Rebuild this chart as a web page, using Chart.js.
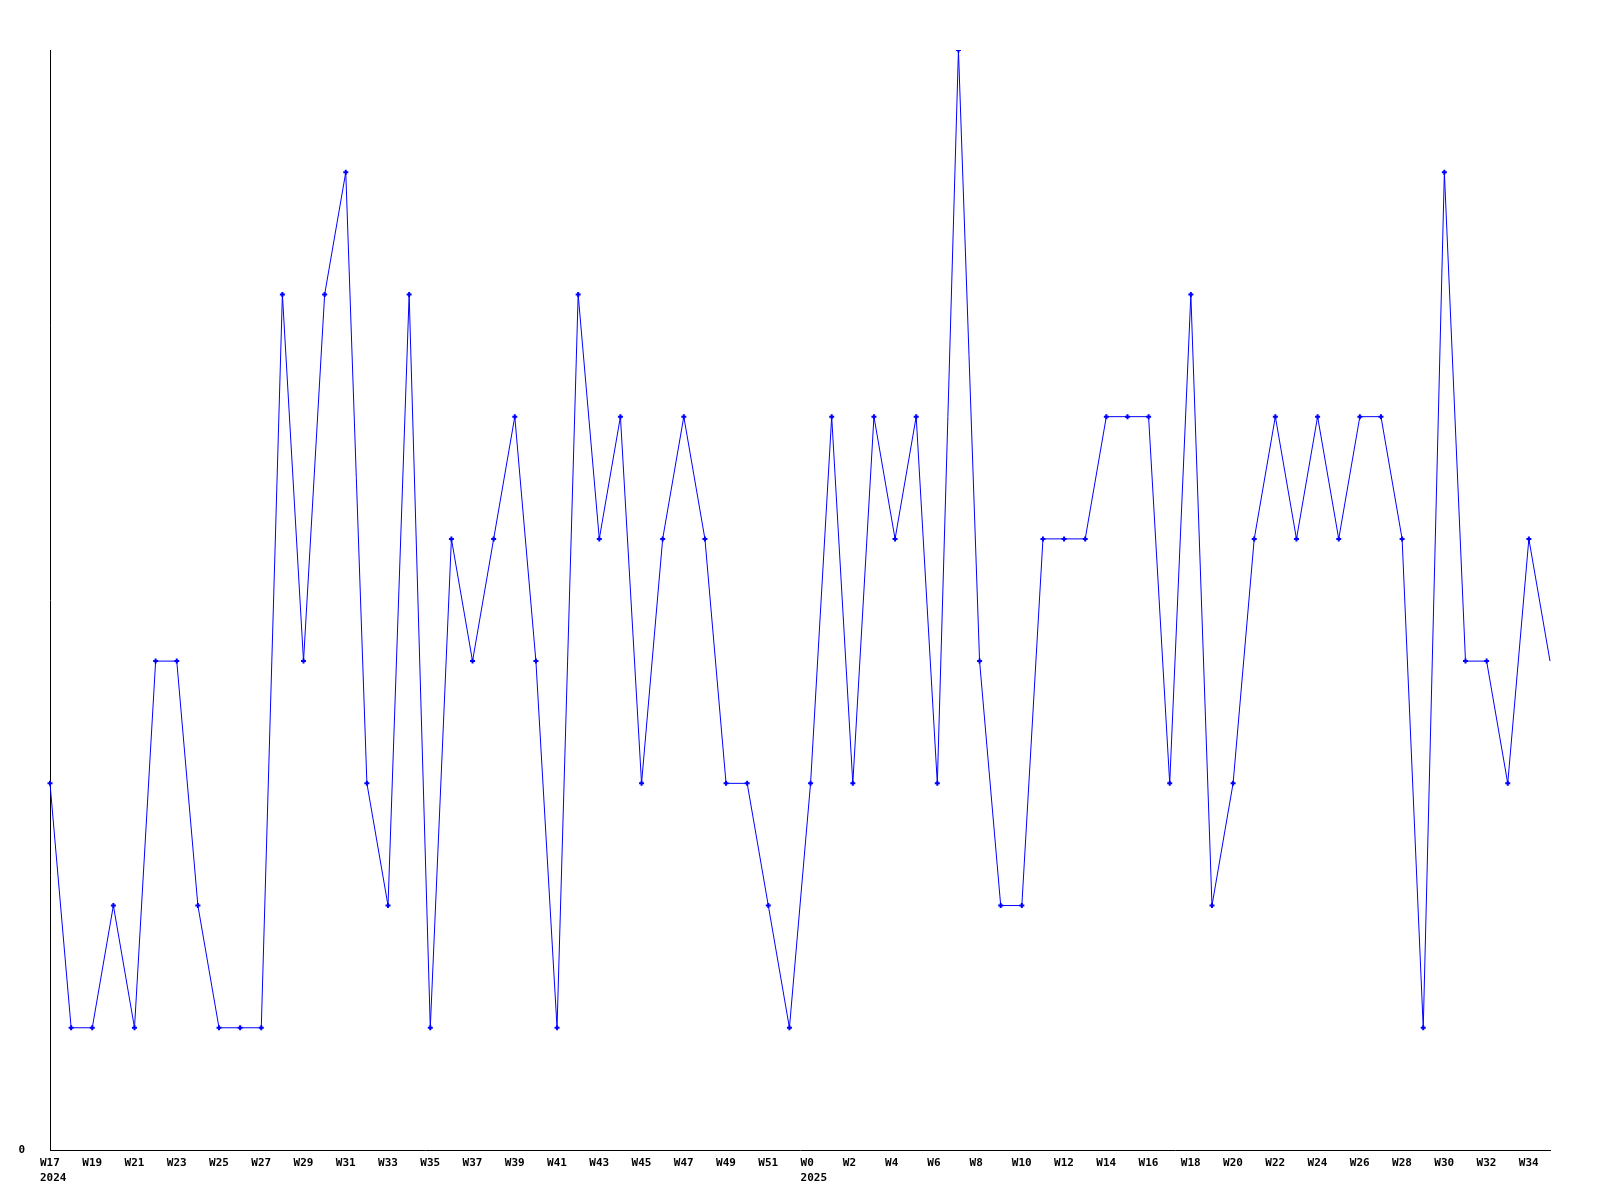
<!DOCTYPE html>
<html>
<head>
<meta charset="utf-8">
<script src="https://cdn.jsdelivr.net/npm/chart.js@4/dist/chart.umd.min.js"></script>
<style>
  html, body { margin: 0; padding: 0; background: #fff; }
  #wrap { width: 1600px; height: 1200px; }
</style>
</head>
<body>
<div id="wrap"><canvas id="weekly"></canvas></div>
<script>
// weeks of 2024 and 2025 as labelled on the x axis
var weeks2024 = ['W17','W18','W19','W20','W21','W22','W23','W24','W25','W26','W27','W28',
                 'W29','W30','W31','W32','W33','W34','W35','W36','W37','W38','W39','W40',
                 'W41','W42','W43','W44','W45','W46','W47','W48','W49','W50','W51','W52'];
var weeks2025 = ['W0','W1','W2','W3','W4','W5','W6','W7','W8','W9','W10','W11',
                 'W12','W13','W14','W15','W16','W17','W18','W19','W20','W21','W22','W23',
                 'W24','W25','W26','W27','W28','W29','W30','W31','W32','W33','W34','W35'];
var years = ['2024', '2025'];

var counts2024 = [3, 1, 1, 2, 1, 4, 4, 2, 1, 1, 1, 7,
                  4, 7, 8, 3, 2, 7, 1, 5, 4, 5, 6, 4,
                  1, 7, 5, 6, 3, 5, 6, 5, 3, 3, 2, 1];
var counts2025 = [3, 6, 3, 6, 5, 6, 3, 9, 4, 2, 2, 5,
                  5, 5, 6, 6, 6, 3, 7, 2, 3, 5, 6, 5,
                  6, 5, 6, 6, 5, 1, 8, 4, 4, 3, 5, 4];

var labels = weeks2024.concat(weeks2025);
var counts = counts2024.concat(counts2025);

var fontMono = { family: "'DejaVu Sans Mono', monospace", size: 11, weight: 'bold', lineHeight: 1.36 };

var ctx = document.getElementById('weekly');
var chart = new Chart(ctx, {
    type: 'line',
    data: {
	labels: labels,
	datasets: [{
	    data: counts,
	    borderColor: '#0000ff',
	    borderWidth: 1,
	    tension: 0,
	    fill: false,
	    pointStyle: 'cross',
	    pointRadius: (c) => c.dataIndex === counts.length - 1 ? 0 : 2.5,
	    pointBorderWidth: 2,
	    pointBorderColor: '#0000ff',
	    pointBackgroundColor: '#0000ff'
	}]
    },
    options: {
	animation: false,
	responsive: true,
	maintainAspectRatio: false,
	layout: {
	    padding: { top: 50, right: 50, left: 0, bottom: 0 }
	},
	scales: {
	    x: {
		offset: false,
		grid: { display: false, drawTicks: false },
		border: { display: true, color: '#000', width: 1 },
		ticks: {
		    autoSkip: false,
		    maxRotation: 0,
		    minRotation: 0,
		    align: 'start',
		    labelOffset: -10, // labels start a bit left of their week
		    padding: 6,
		    color: '#000',
		    font: fontMono,
		    callback: function (value, index) {
			if (index % 2 !== 0) return '';
			var lab = labels[index];
			if (index === 0) return [lab, years[0]];
			if (index === weeks2024.length) return [lab, years[1]];
			return lab;
		    }
		},
		afterFit: function (scale) { scale.height = 50; }
	    },
	    y: {
		min: 0,
		max: 9,
		grid: { display: false, drawTicks: false },
		border: { display: true, color: '#000', width: 1 },
		afterBuildTicks: function (axis) { axis.ticks = [{ value: 0 }]; },
		ticks: {
		    padding: 25,
		    color: '#000',
		    font: fontMono
		},
		afterFit: function (scale) { scale.width = 50; }
	    }
	},
	plugins: {
	    legend: { display: false },
	    tooltip: { enabled: false }
	}
    }
});
</script>
</body>
</html>
